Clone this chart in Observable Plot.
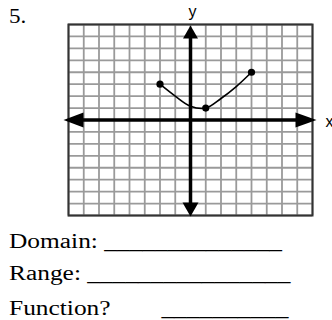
<!DOCTYPE html>
<html>
<head>
<meta charset="utf-8">
<script src="https://cdn.jsdelivr.net/npm/d3@7"></script>
<script src="https://cdn.jsdelivr.net/npm/@observablehq/plot@0.6"></script>
<style>
  html, body { margin: 0; padding: 0; background: #fff; }
  #wrap { position: relative; width: 332px; height: 320px; overflow: hidden; }
  #chart { position: absolute; left: 0; top: 0; }
  .t { position: absolute; left: 9px; font-family: "Liberation Serif", "Times New Roman", serif;
       font-size: 20px; line-height: 20px; white-space: pre; color: #000;
       transform: scaleX(1.27); transform-origin: left center; }
  #num { font-size: 21px; line-height: 21px; top: 6px; transform: scaleX(1.1); }
</style>
</head>
<body>
<div id="wrap">
  <div id="chart"></div>
  <div class="t" id="num">5.</div>
  <div class="t" style="top:231px">Domain: ______________</div>
  <div class="t" style="top:263px">Range: ________________</div>
  <div class="t" style="top:298px">Function?        __________</div>
</div>
<script>
// Grid values
const gridX = [-8, -7, -6, -5, -4, -3, -2, -1, 0, 1, 2, 3, 4, 5, 6, 7, 8];
const gridY = [-8, -7, -6, -5, -4, -3, -2, -1, 0, 1, 2, 3, 4, 5, 6, 7, 8];

// Curve
const curveX = [-2, -1, 0, 1, 2, 3, 4];
const curveY = [3, 2.0, 1.15, 1, 1.8, 2.8, 4];

// Marked points
const dotX = [-2, 1, 4];
const dotY = [3, 1, 4];

// Axis labels
const axisLabels = ["x", "y"];

const curve = curveX.map((x, i) => ({x, y: curveY[i]}));
const dots = dotX.map((x, i) => ({x, y: dotY[i]}));

// Filled arrowhead symbols (tip at the origin)
function arrowHead(dir, len, half) {
  return {
    draw(ctx) {
      if (dir === "up") { ctx.moveTo(0, 0); ctx.lineTo(-half, len); ctx.lineTo(half, len); }
      if (dir === "down") { ctx.moveTo(0, 0); ctx.lineTo(-half, -len); ctx.lineTo(half, -len); }
      if (dir === "left") { ctx.moveTo(0, 0); ctx.lineTo(len, -half); ctx.lineTo(len, half); }
      if (dir === "right") { ctx.moveTo(0, 0); ctx.lineTo(-len, -half); ctx.lineTo(-len, half); }
      ctx.closePath();
    }
  };
}

const chart = Plot.plot({
  width: 332,
  height: 225,
  marginLeft: 68,
  marginRight: 20,
  marginTop: 24,
  marginBottom: 10,
  style: {background: "white", overflow: "visible"},
  x: {domain: [-8, 8], axis: null},
  y: {domain: [-8, 8], axis: null},
  marks: [
    Plot.ruleX(gridX, {stroke: "#9a9a9a", strokeWidth: 1.8}),
    Plot.ruleY(gridY, {stroke: "#9a9a9a", strokeWidth: 1.8}),
    Plot.frame({stroke: "#333", strokeWidth: 2}),
    Plot.ruleX([0], {y1: -7.5, y2: 7.5, stroke: "#000", strokeWidth: 3.5}),
    Plot.ruleY([0], {x1: -7.5, x2: 7.5, stroke: "#000", strokeWidth: 3.5}),
    Plot.dot([0], {x: 0, y: 8, dy: 1, symbol: arrowHead("up", 13, 7.5), fill: "#000", stroke: "none"}),
    Plot.dot([0], {x: 0, y: -8, dy: 1, symbol: arrowHead("down", 14, 8), fill: "#000", stroke: "none"}),
    Plot.dot([0], {x: -8, y: 0, dx: -5, symbol: arrowHead("left", 20, 7.5), fill: "#000", stroke: "none"}),
    Plot.dot([0], {x: 8, y: 0, dx: 4, symbol: arrowHead("right", 21, 7.5), fill: "#000", stroke: "none"}),
    Plot.line(curve, {x: "x", y: "y", curve: "catmull-rom", stroke: "#000", strokeWidth: 1.6}),
    Plot.dot(dots, {x: "x", y: "y", r: 3.6, fill: "#000", stroke: "none"}),
    Plot.text([axisLabels[0]], {x: 8, y: 0, text: d => d, dx: 13, dy: 2, textAnchor: "start",
      fontSize: 16, fontFamily: "Liberation Sans, Arial, sans-serif", fill: "#000"}),
    Plot.text([axisLabels[1]], {x: 0, y: 8, text: d => d, dx: 2, dy: -13,
      fontSize: 16, fontFamily: "Liberation Sans, Arial, sans-serif", fill: "#000"})
  ]
});
document.getElementById("chart").appendChild(chart);
</script>
</body>
</html>
